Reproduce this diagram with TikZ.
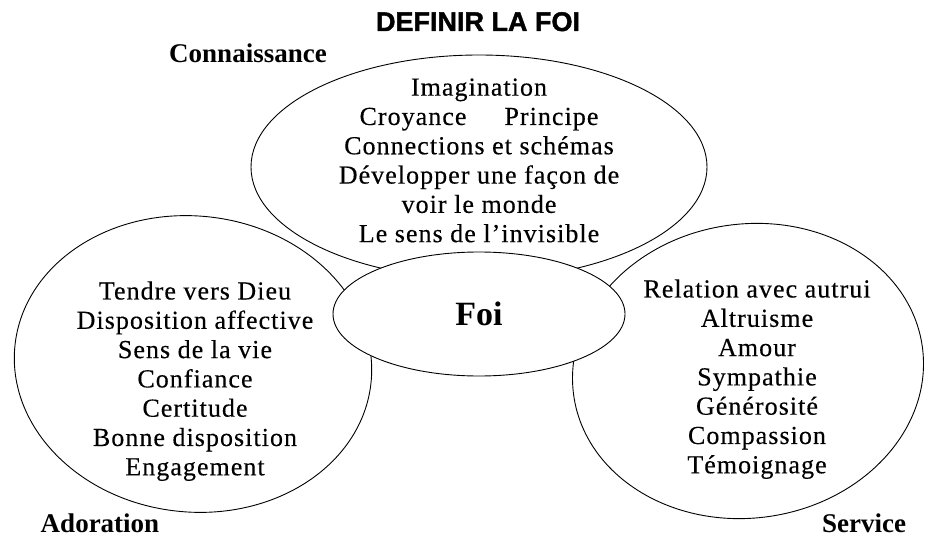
\documentclass[tikz,border=0pt]{standalone}
\usepackage{fontspec}
\setmainfont{Liberation Serif}
\newfontfamily\listfont{Liberation Serif}[LetterSpace=4, FakeBold=0.3]
\newfontfamily\titlefont{Liberation Sans}[BoldFeatures={FakeBold=1.6}]
\usetikzlibrary{shapes.geometric}

\begin{document}
\begin{tikzpicture}[
    x=1pt, y=-1pt,
    line width=0.9pt,
    bubble/.style={ellipse, draw, inner sep=0pt},
    items/.style={anchor=north, align=center, inner sep=0pt,
        font=\listfont\fontsize{26}{29.3}\selectfont},
    heading/.style={anchor=base, inner sep=0pt,
        font=\bfseries\fontsize{27}{30}\selectfont}]
    \useasboundingbox (0,0) rectangle (925,537);
    % the three bubbles, then Foi on top
    \node[bubble, minimum width=456pt, minimum height=224pt] (connaissance) at (479,167) {};
    \node[bubble, minimum width=358pt, minimum height=296pt, rotate=-6] (adoration) at (193,364) {};
    \node[bubble, minimum width=352pt, minimum height=294pt, rotate=8] (service) at (748,371) {};
    \node[bubble, fill=white, minimum width=292pt, minimum height=124pt,
        font=\bfseries\fontsize{34}{34}\selectfont] (foi) at (479,314) {Foi};
    % what goes in each bubble
    \node[items] (connaissance_list) at (479,78) {Imagination\\
        Croyance\hspace{38pt}Principe\\
        Connections et schémas\\
        Développer une façon de\\
        voir le monde\\
        Le sens de l’invisible};
    \node[items] (adoration_list) at (195,281) {Tendre vers Dieu\\
        Disposition affective\\
        Sens de la vie\\
        Confiance\\
        Certitude\\
        Bonne disposition\\
        Engagement};
    \node[items] (service_list) at (757,279) {Relation avec autrui\\
        Altruisme\\
        Amour\\
        Sympathie\\
        Générosité\\
        Compassion\\
        Témoignage};
    % headings
    \node[anchor=base, inner sep=0pt, font=\titlefont\bfseries\fontsize{27}{27}\selectfont] (titre) at (478,31) {DEFINIR LA FOI};
    \node[heading] (connaissance_label) at (248,63) {Connaissance};
    \node[heading] (adoration_label) at (100,532) {Adoration};
    \node[heading] (service_label) at (864,532) {Service};
\end{tikzpicture}
\end{document}
